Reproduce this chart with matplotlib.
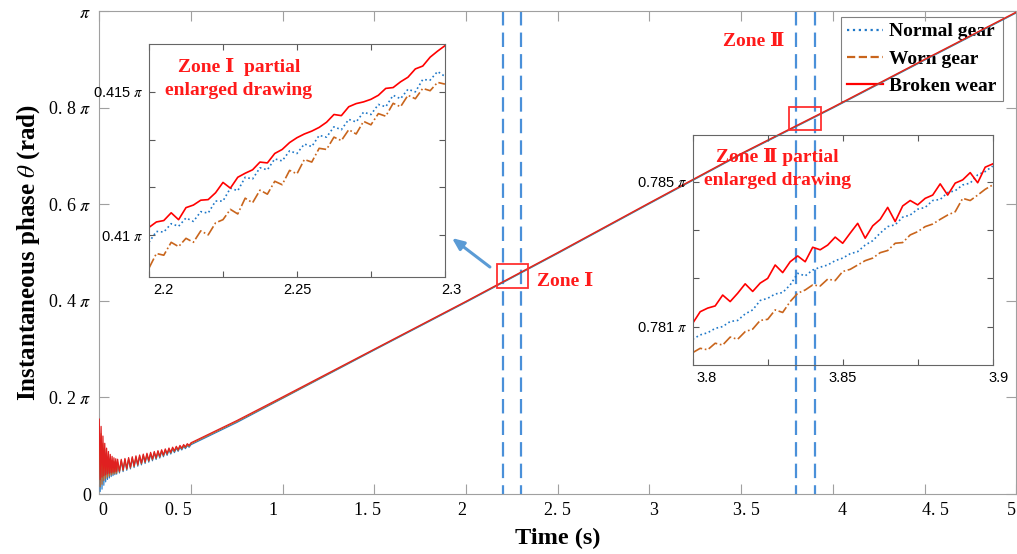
import matplotlib.pyplot as plt
from matplotlib.lines import Line2D
from matplotlib.patches import Rectangle
from matplotlib.transforms import ScaledTranslation
import numpy as np

plt.rcParams['mathtext.fontset'] = 'stix'

SERIF = ['Liberation Serif', 'DejaVu Serif', 'Noto Sans CJK SC']
C_NORMAL = '#1f78c8'
C_WORN = '#c9651c'
C_BROKEN = '#ff0000'
C_ZONE = '#4a90d9'

# ---- main curves, theta in units of pi ----
main_t = [0.000, 0.005, 0.010, 0.015, 0.020, 0.025, 0.030, 0.035, 0.040, 0.045,
          0.050, 0.055, 0.060, 0.065, 0.070, 0.075, 0.080, 0.085, 0.090, 0.095,
          0.100,
          0.11, 0.12, 0.13, 0.14, 0.15, 0.16, 0.17, 0.18, 0.19, 0.20,
          0.21, 0.22, 0.23, 0.24, 0.25, 0.26, 0.27, 0.28, 0.29, 0.30,
          0.31, 0.32, 0.33, 0.34, 0.35, 0.36, 0.37, 0.38, 0.39, 0.40,
          0.41, 0.42, 0.43, 0.44, 0.45, 0.46, 0.47, 0.48, 0.49, 0.50,
          0.75, 1.0, 1.5, 2.0, 2.5, 3.0, 3.5, 4.0, 4.5, 5.0]
main_normal = [0.120, 0.005, 0.110, 0.010, 0.095, 0.018, 0.085, 0.025, 0.078, 0.030,
               0.072, 0.033, 0.068, 0.036, 0.066, 0.038, 0.064, 0.040, 0.063, 0.041,
               0.063,
               0.0434, 0.0678, 0.0463, 0.0696, 0.0490, 0.0714, 0.0519, 0.0732, 0.0546, 0.0750,
               0.0575, 0.0768, 0.0602, 0.0786, 0.0631, 0.0804, 0.0658, 0.0822, 0.0687, 0.0840,
               0.0714, 0.0858, 0.0743, 0.0876, 0.0770, 0.0894, 0.0799, 0.0912, 0.0826, 0.0930,
               0.0855, 0.0948, 0.0882, 0.0966, 0.0911, 0.0984, 0.0938, 0.1002, 0.0967, 0.1020,
               0.148, 0.198, 0.298, 0.397, 0.498, 0.601, 0.703, 0.799, 0.898, 0.996]
main_worn = [0.130, 0.015, 0.125, 0.020, 0.105, 0.028, 0.092, 0.032, 0.085, 0.035,
             0.078, 0.037, 0.073, 0.039, 0.070, 0.041, 0.068, 0.042, 0.067, 0.043,
             0.066,
             0.0454, 0.0698, 0.0483, 0.0716, 0.0510, 0.0734, 0.0539, 0.0752, 0.0566, 0.0770,
             0.0595, 0.0788, 0.0622, 0.0806, 0.0651, 0.0824, 0.0678, 0.0842, 0.0707, 0.0860,
             0.0734, 0.0878, 0.0763, 0.0896, 0.0790, 0.0914, 0.0819, 0.0932, 0.0846, 0.0950,
             0.0875, 0.0968, 0.0902, 0.0986, 0.0931, 0.1004, 0.0958, 0.1022, 0.0987, 0.1040,
             0.150, 0.199, 0.299, 0.398, 0.499, 0.602, 0.704, 0.800, 0.899, 0.997]
main_broken = [0.155, 0.030, 0.140, 0.035, 0.120, 0.038, 0.105, 0.040, 0.095, 0.042,
               0.088, 0.043, 0.082, 0.044, 0.078, 0.045, 0.075, 0.046, 0.073, 0.047,
               0.072,
               0.0474, 0.0718, 0.0503, 0.0736, 0.0530, 0.0754, 0.0559, 0.0772, 0.0586, 0.0790,
               0.0615, 0.0808, 0.0642, 0.0826, 0.0671, 0.0844, 0.0698, 0.0862, 0.0727, 0.0880,
               0.0754, 0.0898, 0.0783, 0.0916, 0.0810, 0.0934, 0.0839, 0.0952, 0.0866, 0.0970,
               0.0895, 0.0988, 0.0922, 0.1006, 0.0951, 0.1024, 0.0978, 0.1042, 0.1007, 0.1060,
               0.152, 0.201, 0.300, 0.399, 0.500, 0.603, 0.705, 0.801, 0.900, 0.998]

# ---- zone I zoom (2.2 - 2.3 s), 41 samples ----
z1_t = np.linspace(2.2, 2.3, 41)
z1_normal = [0.40975, 0.41013, 0.41011, 0.41040, 0.41031, 0.41060, 0.41048, 0.41082, 0.41077, 0.41119,
             0.41119, 0.41164, 0.41155, 0.41202, 0.41196, 0.41235, 0.41228, 0.41266, 0.41259, 0.41294,
             0.41285, 0.41318, 0.41309, 0.41348, 0.41342, 0.41378, 0.41368, 0.41404, 0.41395, 0.41429,
             0.41421, 0.41456, 0.41448, 0.41488, 0.41476, 0.41509, 0.41500, 0.41543, 0.41541, 0.41571,
             0.41554]
z1_worn = [0.40885, 0.40936, 0.40930, 0.40975, 0.40960, 0.40989, 0.40975, 0.41015, 0.41001, 0.41043,
           0.41054, 0.41090, 0.41074, 0.41129, 0.41113, 0.41157, 0.41143, 0.41188, 0.41176, 0.41226,
           0.41214, 0.41264, 0.41255, 0.41303, 0.41299, 0.41342, 0.41330, 0.41368, 0.41353, 0.41397,
           0.41385, 0.41424, 0.41415, 0.41460, 0.41448, 0.41488, 0.41476, 0.41512, 0.41504, 0.41533,
           0.41527]
z1_broken = [0.41027, 0.41046, 0.41051, 0.41078, 0.41054, 0.41096, 0.41105, 0.41122, 0.41124, 0.41148,
             0.41184, 0.41164, 0.41202, 0.41216, 0.41228, 0.41255, 0.41252, 0.41285, 0.41299, 0.41323,
             0.41340, 0.41353, 0.41363, 0.41376, 0.41394, 0.41421, 0.41417, 0.41448, 0.41459, 0.41465,
             0.41474, 0.41488, 0.41512, 0.41515, 0.41535, 0.41551, 0.41580, 0.41590, 0.41621, 0.41642,
             0.41661]

# ---- zone II zoom (3.8 - 3.9 s), 41 samples ----
z2_t = np.linspace(3.8, 3.9, 41)
z2_normal = [0.78065, 0.78077, 0.78083, 0.78095, 0.78100, 0.78114, 0.78117, 0.78135, 0.78146, 0.78172,
             0.78178, 0.78190, 0.78194, 0.78215, 0.78247, 0.78240, 0.78256, 0.78264, 0.78270, 0.78282,
             0.78289, 0.78301, 0.78307, 0.78325, 0.78337, 0.78358, 0.78376, 0.78381, 0.78402, 0.78408,
             0.78424, 0.78429, 0.78448, 0.78451, 0.78470, 0.78475, 0.78491, 0.78496, 0.78519, 0.78528,
             0.78543]
z2_worn = [0.78028, 0.78040, 0.78036, 0.78054, 0.78049, 0.78071, 0.78065, 0.78086, 0.78093, 0.78117,
           0.78120, 0.78146, 0.78139, 0.78169, 0.78192, 0.78201, 0.78215, 0.78212, 0.78231, 0.78227,
           0.78252, 0.78258, 0.78270, 0.78282, 0.78289, 0.78304, 0.78310, 0.78330, 0.78332, 0.78353,
           0.78362, 0.78376, 0.78383, 0.78396, 0.78408, 0.78417, 0.78454, 0.78448, 0.78463, 0.78479,
           0.78491]
z2_broken = [0.78109, 0.78141, 0.78151, 0.78157, 0.78187, 0.78169, 0.78192, 0.78218, 0.78197, 0.78220,
             0.78233, 0.78270, 0.78249, 0.78279, 0.78295, 0.78279, 0.78319, 0.78312, 0.78325, 0.78347,
             0.78330, 0.78358, 0.78385, 0.78344, 0.78378, 0.78396, 0.78429, 0.78390, 0.78433, 0.78448,
             0.78436, 0.78454, 0.78463, 0.78494, 0.78463, 0.78496, 0.78505, 0.78525, 0.78497, 0.78540,
             0.78549]

main_xticks = [0, 0.5, 1, 1.5, 2, 2.5, 3, 3.5, 4, 4.5, 5]
main_xticklabels = ['0', '0. 5', '1', '1. 5', '2', '2. 5', '3', '3. 5', '4', '4. 5', '5']
main_yticks = [0, 0.2, 0.4, 0.6, 0.8, 1.0]
main_yticklabels = ['0', r'0. 2 $\pi$', r'0. 4 $\pi$', r'0. 6 $\pi$', r'0. 8 $\pi$', r'$\pi$']
zone_lines = [2.2, 2.3, 3.8, 3.9]
legend_labels = ['Normal gear', 'Worn gear', 'Broken wear']
# the x labels of the source sit a little off their ticks (pixels)
xlabel_shift = [4, -13, -10, -7, -4, 0, 4, 5, 9, 11, -5]
inset_xlabel_shift = [14, 0, 0, 0, 6]


def shift_labels(labels, shifts):
    for lab, dx in zip(labels, shifts):
        lab.set_transform(lab.get_transform() + ScaledTranslation(dx / 100, 0, fig.dpi_scale_trans))


fig = plt.figure(figsize=(10.17, 5.54), dpi=100)
ax = fig.add_axes([0.0976, 0.1083, 0.9017, 0.8718])

ax.plot(main_t, main_normal, color=C_NORMAL, lw=0.8, zorder=3)
ax.plot(main_t, main_worn, color=C_WORN, lw=0.8, zorder=3)
ax.plot(main_t, main_broken, color='#e02020', lw=0.9, zorder=3)

for x in zone_lines:
    ax.plot([x, x], [1, 0], color=C_ZONE, lw=1.6, ls=(0, (6.5, 3.2)), zorder=2)

ax.add_patch(Rectangle((2.168, 0.4265), 0.17, 0.0495, fill=False, ec='#ff3030', lw=1.3, zorder=4))
ax.add_patch(Rectangle((3.76, 0.7536), 0.175, 0.0474, fill=False, ec='#ff3030', lw=1.3, zorder=4))

ax.text(2.387, 0.441, 'Zone Ⅰ', color='#ff1a1a', fontsize=14, fontweight='bold',
        family=SERIF, ha='left', va='center')
ax.text(3.40, 0.936, 'Zone Ⅱ', color='#ff1a1a', fontsize=14, fontweight='bold',
        family=SERIF, ha='left', va='center')

ax.annotate('', xy=(1.923, 0.530), xytext=(2.13, 0.470),
            arrowprops=dict(arrowstyle='-|>,head_length=0.7,head_width=0.3',
                            color='#5b9bd5', lw=2.2, shrinkA=0, shrinkB=0))

ax.set_xlim(0, 5)
ax.set_ylim(0, 1)
ax.set_xticks(main_xticks)
ax.set_xticklabels(main_xticklabels, family='Liberation Serif', fontsize=13)
ax.set_yticks(main_yticks)
ax.set_yticklabels(main_yticklabels, family='Liberation Serif', fontsize=13)
ax.tick_params(direction='in', top=True, right=True, length=7, color='#a0a0a0', pad=6)
shift_labels(ax.get_xticklabels(), xlabel_shift)
for s in ax.spines.values():
    s.set_color('#a0a0a0')
ax.set_xlabel('Time (s)', fontsize=17.5, fontweight='bold', family='Liberation Serif', labelpad=6)
ax.set_ylabel(r'Instantaneous phase $\theta$ (rad)', fontsize=18, fontweight='bold',
              family='Liberation Serif', labelpad=4)

handles = [Line2D([], [], color=C_NORMAL, ls=':', lw=1.6),
           Line2D([], [], color=C_WORN, ls='--', lw=1.6),
           Line2D([], [], color=C_BROKEN, ls='-', lw=1.6)]
leg = ax.legend(handles, legend_labels, loc='upper right', bbox_to_anchor=(0.985, 0.9876),
                prop=dict(family='Liberation Serif', weight='bold', size=14),
                fancybox=False, edgecolor='0.5', framealpha=1, handlelength=1.9,
                borderpad=0.3, labelspacing=0.5, handletextpad=0.3, borderaxespad=0)
leg.get_frame().set_linewidth(0.8)
leg.set_zorder(1)


def style_inset(a, xt, xl, yt, yl):
    a.patch.set_facecolor('none')
    a.set_xticks(xt)
    a.set_xticklabels(xl, family='Liberation Sans', fontsize=10.5)
    a.set_yticks(yt)
    a.set_yticklabels(yl, family='Liberation Sans', fontsize=10.5)
    a.tick_params(direction='in', top=True, right=True, length=4, color='0.35', pad=4)
    shift_labels(a.get_xticklabels(), inset_xlabel_shift)
    for s in a.spines.values():
        s.set_color('0.4')
        s.set_linewidth(0.8)


# zone I inset
ax1 = fig.add_axes([0.1465, 0.5, 0.291, 0.4206])
ax1.plot(z1_t, z1_normal, color=C_NORMAL, ls=':', lw=1.2)
ax1.plot(z1_t, z1_worn, color=C_WORN, ls='-.', lw=1.2)
ax1.plot(z1_t, z1_broken, color=C_BROKEN, ls='-', lw=1.2)
ax1.set_xlim(2.2, 2.3)
ax1.set_ylim(0.40854, 0.41667)
style_inset(ax1, [2.2, 2.225, 2.25, 2.275, 2.3], ['2.2', '', '2.25', '', '2.3'],
            [0.41, 0.41 + 0.005 / 3, 0.41 + 0.01 / 3, 0.415],
            [r'0.41 $\pi$', '', '', r'0.415 $\pi$'])
ax1.text(0.304, 0.853, 'Zone Ⅰ  partial\nenlarged drawing', transform=ax1.transAxes,
         color='#ff1a1a', fontsize=14, fontweight='bold', family=SERIF,
         ha='center', va='center', linespacing=1.45)

# zone II inset
ax2 = fig.add_axes([0.6811, 0.3412, 0.295, 0.4152])
ax2.plot(z2_t, z2_normal, color=C_NORMAL, ls=':', lw=1.2)
ax2.plot(z2_t, z2_worn, color=C_WORN, ls='-.', lw=1.2)
ax2.plot(z2_t, z2_broken, color=C_BROKEN, ls='-', lw=1.2)
ax2.set_xlim(3.8, 3.9)
ax2.set_ylim(0.77994, 0.78629)
style_inset(ax2, [3.8, 3.825, 3.85, 3.875, 3.9], ['3.8', '', '3.85', '', '3.9'],
            [0.781, 0.781 + 0.004 / 3, 0.781 + 0.008 / 3, 0.785],
            [r'0.781 $\pi$', '', '', r'0.785 $\pi$'])
ax2.text(0.283, 0.855, 'Zone Ⅱ partial\nenlarged drawing', transform=ax2.transAxes,
         color='#ff1a1a', fontsize=14, fontweight='bold', family=SERIF,
         ha='center', va='center', linespacing=1.45)

fig.savefig('out.png', dpi=100)
